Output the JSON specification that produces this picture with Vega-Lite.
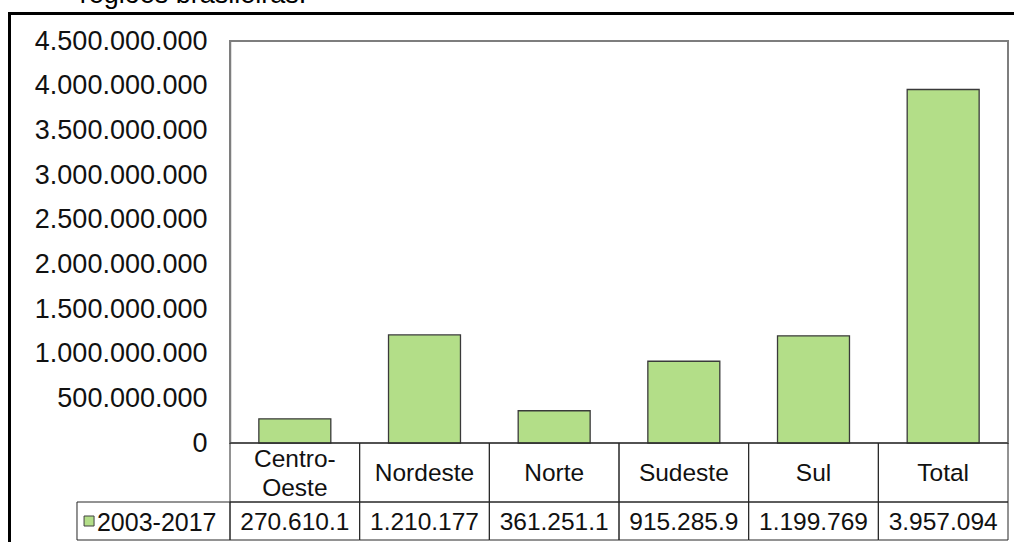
{
  "$schema": "https://vega.github.io/schema/vega-lite/v6.json",
  "width": 1010,
  "height": 540,
  "autosize": {"type": "none"},
  "padding": {"left": 9.5, "top": 13.5, "right": -5.5, "bottom": -11.5},
  "background": "white",
  "config": {
    "view": {"stroke": "#000000", "strokeWidth": 3}
  },
  "datasets": {
    "regioes": [
      {"regiao": "Centro-Oeste", "rotulo": "Centro-\nOeste", "valor": 270610100, "texto": "270.610.1"},
      {"regiao": "Nordeste", "rotulo": "Nordeste", "valor": 1210177000, "texto": "1.210.177"},
      {"regiao": "Norte", "rotulo": "Norte", "valor": 361251100, "texto": "361.251.1"},
      {"regiao": "Sudeste", "rotulo": "Sudeste", "valor": 915285900, "texto": "915.285.9"},
      {"regiao": "Sul", "rotulo": "Sul", "valor": 1199769000, "texto": "1.199.769"},
      {"regiao": "Total", "rotulo": "Total", "valor": 3957094000, "texto": "3.957.094"}
    ]
  },
  "encoding": {
    "x": {
      "field": "regiao",
      "type": "nominal",
      "scale": {"type": "band", "range": [220.5, 998.5], "paddingInner": 0, "paddingOuter": 0},
      "axis": null
    }
  },
  "resolve": {"scale": {"y": "independent"}},
  "layer": [
    {
      "data": {"name": "regioes"},
      "layer": [
        {
          "mark": {"type": "rect", "fill": "transparent", "stroke": "#7f7f7f", "strokeWidth": 1.5},
          "encoding": {
            "x": {"datum": "Centro-Oeste", "type": "nominal", "bandPosition": 0},
            "x2": {"datum": "Total", "bandPosition": 1},
            "y": {"datum": 0, "type": "quantitative"},
            "y2": {"datum": 4500000000}
          }
        },
        {
          "mark": {"type": "bar", "fill": "#b3de88", "stroke": "#3a3a3a", "strokeWidth": 1.3, "width": {"band": 0.555}},
          "encoding": {
            "y": {
              "field": "valor",
              "type": "quantitative",
              "scale": {"domain": [0, 4500000000], "range": [429.5, 27.5], "nice": false, "zero": true},
              "axis": {
                "orient": "left",
                "offset": -220.5,
                "values": [0, 500000000, 1000000000, 1500000000, 2000000000, 2500000000, 3000000000, 3500000000, 4000000000, 4500000000],
                "format": ",d",
                "labelExpr": "replace(replace(replace(datum.label, ',', '.'), ',', '.'), ',', '.')",
                "title": null,
                "ticks": false,
                "tickSize": 0,
                "grid": false,
                "labelPadding": 23,
                "labelFont": "Liberation Sans",
                "labelFontSize": 27,
                "labelColor": "#111111",
                "labelBaseline": "middle",
                "domain": true,
                "domainColor": "#7f7f7f",
                "domainWidth": 1.5
              }
            }
          }
        }
      ]
    },
    {
      "data": {"values": [{"regiao": "Centro-Oeste", "titulo": "regiões brasileiras."}]},
      "encoding": {
        "y": {
          "datum": "titulo",
          "type": "nominal",
          "scale": {"type": "band", "range": [-15, -6], "paddingInner": 0, "paddingOuter": 0},
          "axis": null
        }
      },
      "layer": [
        {
          "mark": {"type": "text", "baseline": "alphabetic", "align": "center", "font": "Liberation Sans", "fontSize": 27, "color": "#000000"},
          "encoding": {"x": {"field": "regiao", "type": "nominal", "bandPosition": -0.285}, "text": {"field": "titulo"}}
        }
      ]
    },
    {
      "data": {"name": "regioes"},
      "encoding": {
        "y": {
          "datum": "cabecalho",
          "type": "nominal",
          "scale": {"type": "band", "range": [429.5, 488.5], "paddingInner": 0, "paddingOuter": 0},
          "axis": null
        }
      },
      "layer": [
        {"mark": {"type": "rect", "fill": "transparent", "stroke": "#262626", "strokeWidth": 1}},
        {
          "transform": [{"filter": "indexof(datum.rotulo, '\\n') < 0"}],
          "mark": {"type": "text", "baseline": "middle", "align": "center", "dy": 1.5, "font": "Liberation Sans", "fontSize": 24.5, "color": "#111111"},
          "encoding": {"text": {"field": "rotulo"}}
        },
        {
          "transform": [{"filter": "indexof(datum.rotulo, '\\n') >= 0"}],
          "mark": {"type": "text", "lineBreak": "\n", "lineHeight": 29, "baseline": "middle", "align": "center", "dy": -13, "font": "Liberation Sans", "fontSize": 24.5, "color": "#111111"},
          "encoding": {"text": {"field": "rotulo"}}
        }
      ]
    },
    {
      "data": {"name": "regioes"},
      "encoding": {
        "y": {
          "datum": "valores",
          "type": "nominal",
          "scale": {"type": "band", "range": [488.5, 526.5], "paddingInner": 0, "paddingOuter": 0},
          "axis": null
        }
      },
      "layer": [
        {"mark": {"type": "rect", "fill": "transparent", "stroke": "#262626", "strokeWidth": 1}},
        {
          "mark": {"type": "text", "baseline": "middle", "align": "center", "dy": 2, "font": "Liberation Sans", "fontSize": 24.5, "color": "#111111"},
          "encoding": {"text": {"field": "texto"}}
        },
        {
          "data": {"values": [{"serie": "2003-2017", "regiao": "Centro-Oeste"}]},
          "layer": [
            {
              "mark": {"type": "rect", "fill": "transparent", "stroke": "#262626", "strokeWidth": 1},
              "encoding": {
                "x": {"field": "regiao", "type": "nominal", "bandPosition": -1.18},
                "x2": {"field": "regiao", "bandPosition": 0}
              }
            },
            {
              "mark": {"type": "point", "shape": "square", "size": 100, "filled": true, "fill": "#b3de88", "stroke": "#404040", "strokeWidth": 1, "opacity": 1, "dy": 2},
              "encoding": {"x": {"field": "regiao", "type": "nominal", "bandPosition": -1.087}}
            },
            {
              "mark": {"type": "text", "baseline": "middle", "align": "left", "dy": 2, "font": "Liberation Sans", "fontSize": 25, "color": "#111111"},
              "encoding": {"x": {"field": "regiao", "type": "nominal", "bandPosition": -1.026}, "text": {"field": "serie"}}
            }
          ]
        }
      ]
    }
  ]
}
